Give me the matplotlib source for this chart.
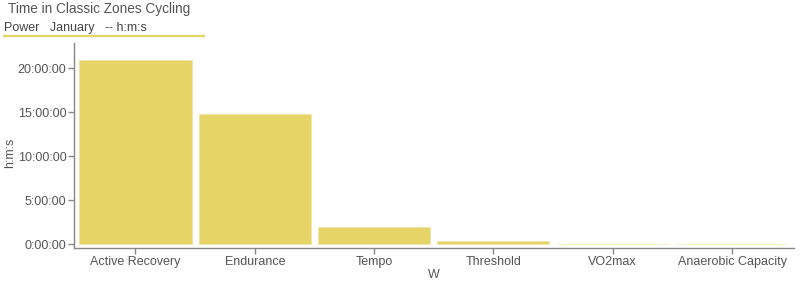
import matplotlib.pyplot as plt
from matplotlib.ticker import FuncFormatter, MultipleLocator
from matplotlib.lines import Line2D

plt.rcParams['font.family'] = ['Liberation Sans', 'DejaVu Sans']

zones = ['Active Recovery', 'Endurance', 'Tempo', 'Threshold', 'VO2max', 'Anaerobic Capacity']
# time in zone, seconds
seconds = [75460, 53280, 7090, 1350, 300, 80]

bar_color = '#e6d466'
text_color = '#555555'
axis_color = '#888888'


def hms(v, pos):
    v = int(round(v))
    if v < 0:
        return ''
    return '%d:%02d:%02d' % (v // 3600, (v % 3600) // 60, v % 60)


fig = plt.figure(figsize=(8, 2.86), dpi=100)
ax = fig.add_axes([74 / 800, 1 - 248.3 / 286, (793.5 - 74) / 800, (248.3 - 43) / 286])

ax.bar(range(len(zones)), seconds, width=0.94, color=bar_color,
       edgecolor='#efe3a3', linewidth=0.4)

ax.set_xlim(-0.515, len(zones) - 1 + 0.515)
ax.set_ylim(-0.46 * 3600, 22.9 * 3600)
ax.yaxis.set_major_locator(MultipleLocator(5 * 3600))
ax.yaxis.set_major_formatter(FuncFormatter(hms))
ax.set_xticks(range(len(zones)))
ax.set_xticklabels(zones)

for side in ['top', 'right']:
    ax.spines[side].set_visible(False)
for side in ['left', 'bottom']:
    ax.spines[side].set_color(axis_color)
    ax.spines[side].set_linewidth(1)
ax.tick_params(colors=axis_color, labelcolor=text_color, labelsize=9, length=4, width=1, pad=1.5)

ax.set_xlabel('W', color=text_color, fontsize=9, labelpad=1)
fig.text(10 / 800, 1 - 153 / 286, 'h:m:s', color=text_color, fontsize=9,
         rotation=90, va='center', ha='center')

fig.text(8 / 800, 1 - 9 / 286, 'Time in Classic Zones Cycling', color=text_color,
         fontsize=9.8, va='center', ha='left')
fig.text(4 / 800, 1 - 28 / 286, 'Power   January   -- h:m:s', color='#444444',
         fontsize=9, va='center', ha='left')
fig.add_artist(Line2D([4 / 800, 204 / 800], [1 - 36 / 286, 1 - 36 / 286],
                      transform=fig.transFigure, color=bar_color, linewidth=1.6))

fig.savefig('out.png', dpi=100)
